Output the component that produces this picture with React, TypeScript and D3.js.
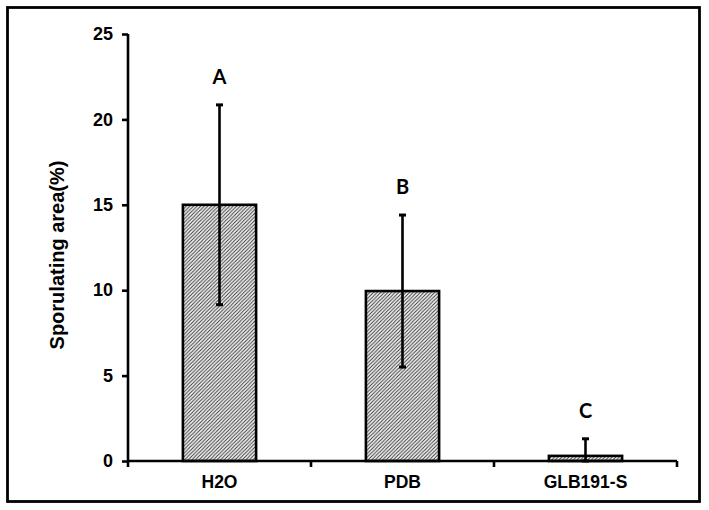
import React, { useEffect, useRef } from 'react'
import * as d3 from 'd3'

const categories = ['H2O', 'PDB', 'GLB191-S']
const means = [15.0, 9.95, 0.3]
const errors = [5.85, 4.45, 1.0]
const letters = ['A', 'B', 'C']
const yTicks = [0, 5, 10, 15, 20, 25]

const W = 709
const H = 510
const margin = { top: 34, right: 32, bottom: 49, left: 128 }

function App () {
  const ref = useRef<SVGSVGElement>(null)

  useEffect(() => {
    const svg = d3.select(ref.current)
    svg.selectAll('*').remove()

    const innerW = W - margin.left - margin.right
    const innerH = H - margin.top - margin.bottom

    const defs = svg.append('defs')
    const pat = defs.append('pattern')
      .attr('id', 'hatch')
      .attr('patternUnits', 'userSpaceOnUse')
      .attr('width', 3.6)
      .attr('height', 3.6)
    pat.append('rect').attr('width', 3.6).attr('height', 3.6).attr('fill', '#f6f6f6')
    pat.append('path')
      .attr('d', 'M-0.9,0.9 l1.8,-1.8 M0,3.6 l3.6,-3.6 M2.7,4.5 l1.8,-1.8')
      .attr('stroke', '#333')
      .attr('stroke-width', 0.95)

    // outer frame
    svg.append('rect')
      .attr('x', 7.5)
      .attr('y', 7.5)
      .attr('width', 692)
      .attr('height', 494)
      .attr('fill', 'none')
      .attr('stroke', '#000')
      .attr('stroke-width', 2.8)

    const g = svg.append('g')
      .attr('transform', 'translate(' + margin.left + ',' + margin.top + ')')

    const x = d3.scaleBand().domain(categories).range([0, innerW]).padding(0)
    const y = d3.scaleLinear().domain([0, 25]).range([innerH, 0])
    const bw = x.bandwidth() * 0.4

    // bars
    g.selectAll('rect.bar')
      .data(categories)
      .enter()
      .append('rect')
      .attr('class', 'bar')
      .attr('x', d => (x(d) as number) + (x.bandwidth() - bw) / 2)
      .attr('y', (d, i) => y(means[i]))
      .attr('width', bw)
      .attr('height', (d, i) => innerH - y(means[i]))
      .attr('fill', 'url(#hatch)')
      .attr('stroke', '#000')
      .attr('stroke-width', 2.6)

    // error bars (drawn over the bars)
    categories.forEach((c, i) => {
      const cx = (x(c) as number) + x.bandwidth() / 2
      const top = y(means[i] + errors[i])
      const bot = y(Math.max(0, means[i] - errors[i]))
      g.append('line')
        .attr('x1', cx).attr('x2', cx)
        .attr('y1', top).attr('y2', bot)
        .attr('stroke', '#000').attr('stroke-width', 2.6)
      ;[top, bot].forEach(v => {
        g.append('line')
          .attr('x1', cx - 3.5).attr('x2', cx + 3.5)
          .attr('y1', v).attr('y2', v)
          .attr('stroke', '#000').attr('stroke-width', 3)
      })
      g.append('text')
        .attr('x', cx)
        .attr('y', top - 21)
        .attr('text-anchor', 'middle')
        .attr('font-family', 'Lato, "Open Sans", sans-serif')
        .attr('font-weight', 'bold')
        .attr('font-size', 20)
        .attr('fill', '#000')
        .text(letters[i])
    })

    // y axis
    const yAxis = g.append('g')
      .call(d3.axisLeft(y).tickValues(yTicks).tickSize(6).tickPadding(9))
    yAxis.select('.domain').attr('stroke-width', 2.6).attr('d', 'M0,' + innerH + 'V0')
    yAxis.selectAll('.tick line').attr('stroke-width', 2.6)
    yAxis.selectAll('.tick text')
      .attr('font-family', '"Liberation Sans", Arial, sans-serif')
      .attr('font-weight', 'bold')
      .attr('font-size', 18)
      .attr('fill', '#000')

    // x axis: ticks at band boundaries, labels at centres
    const edges = categories.map(c => x(c) as number).concat([innerW])
    const xa = g.append('g').attr('transform', 'translate(0,' + innerH + ')')
    xa.append('line')
      .attr('x1', 0).attr('x2', innerW)
      .attr('stroke', '#000').attr('stroke-width', 2.6)
    xa.selectAll('line.tk')
      .data(edges)
      .enter()
      .append('line')
      .attr('class', 'tk')
      .attr('x1', d => d).attr('x2', d => d)
      .attr('y1', 0).attr('y2', 6)
      .attr('stroke', '#000').attr('stroke-width', 2.6)
    xa.selectAll('text')
      .data(categories)
      .enter()
      .append('text')
      .attr('x', d => (x(d) as number) + x.bandwidth() / 2)
      .attr('y', 27)
      .attr('text-anchor', 'middle')
      .attr('font-family', '"Liberation Sans", Arial, sans-serif')
      .attr('font-weight', 'bold')
      .attr('font-size', 17.5)
      .attr('fill', '#000')
      .text(d => d)

    // y label
    svg.append('text')
      .attr('transform', 'translate(64,' + 255 + ') rotate(-90)')
      .attr('text-anchor', 'middle')
      .attr('font-family', '"Liberation Sans", Arial, sans-serif')
      .attr('font-weight', 'bold')
      .attr('font-size', 20)
      .attr('fill', '#000')
      .text('Sporulating area(%)')
  }, [])

  return (
    <svg
      ref={ref}
      width={W}
      height={H}
      style={{ position: 'fixed', left: 0, top: 0, background: '#fff' }}
    />
  )
}

export default App
